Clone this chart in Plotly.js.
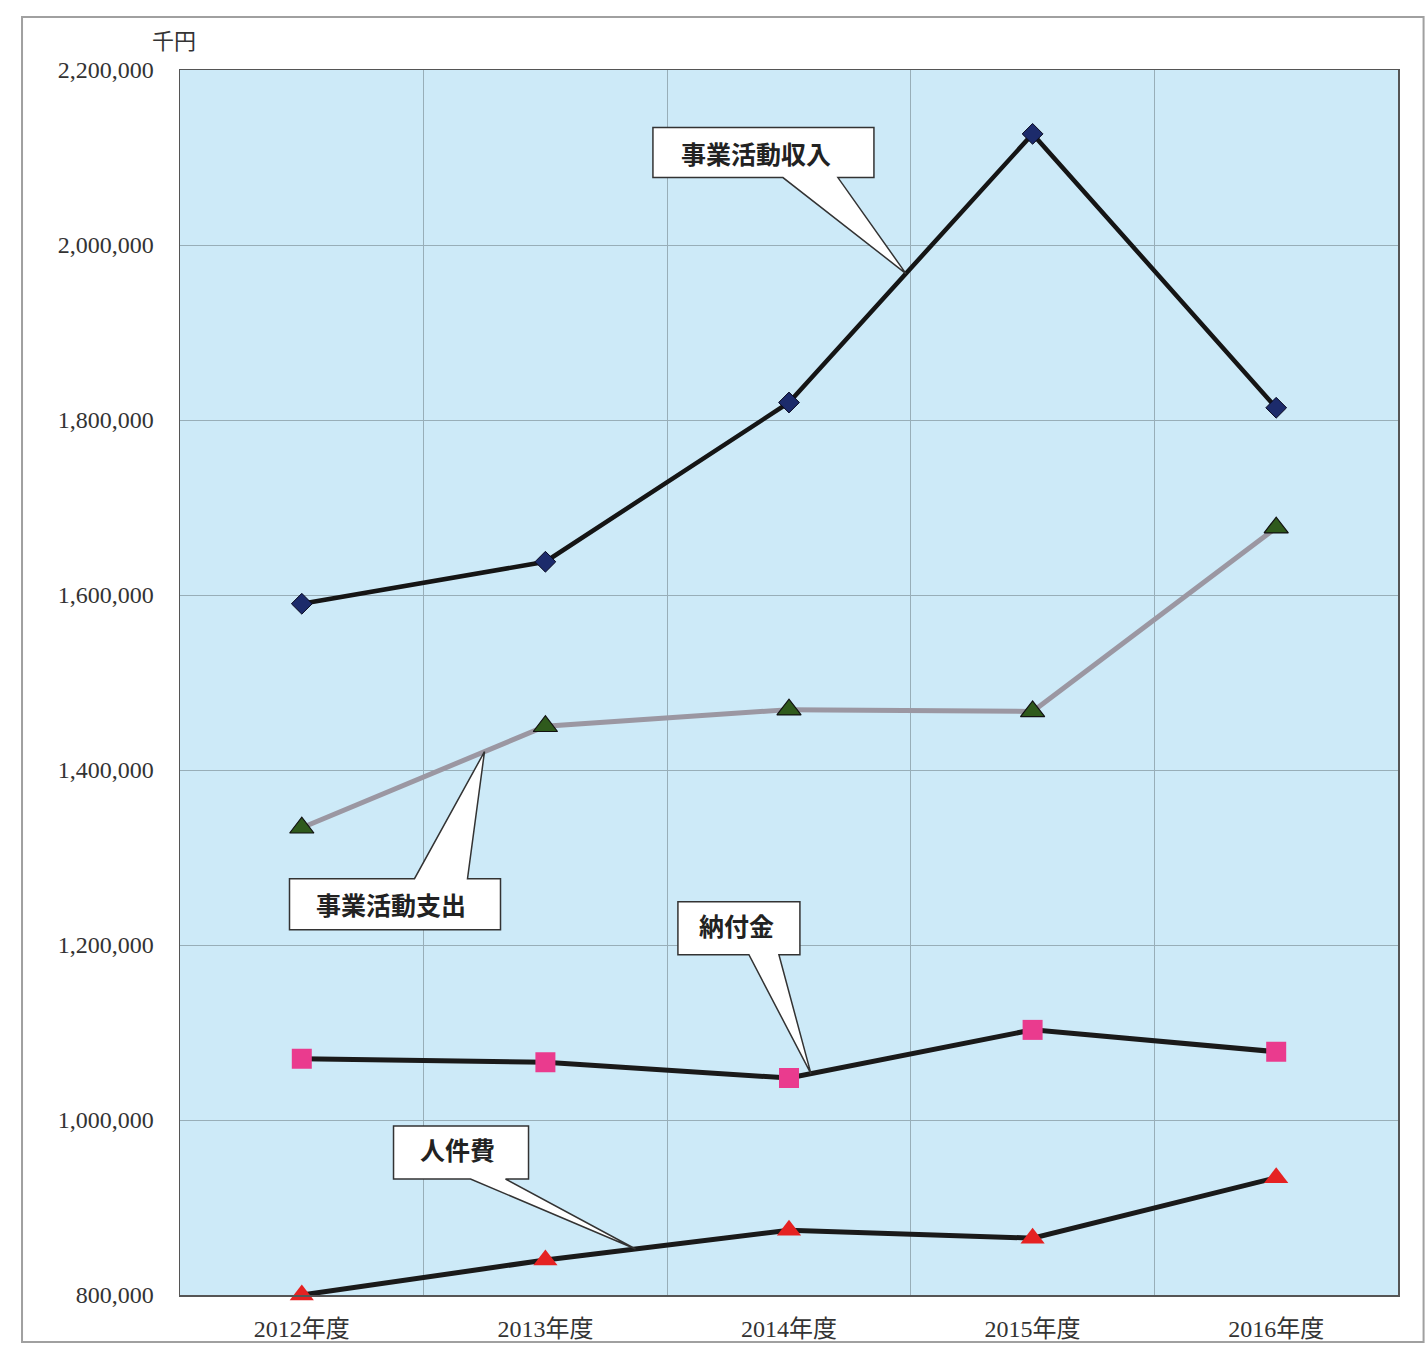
<!DOCTYPE html>
<html><head><meta charset="utf-8">
<script src="https://cdn.plot.ly/plotly-3.0.1.min.js"></script>
<style>html,body{margin:0;padding:0;background:#fff;}#chart{width:1426px;height:1345px;}</style>
</head><body><div id="chart"></div>
<script>
const categories = ['2012年度','2013年度','2014年度','2015年度','2016年度'];
const revenue = [1590000, 1638000, 1820000, 2127000, 1814000];   // 事業活動収入
const expense = [1334000, 1450000, 1469000, 1467000, 1677000];   // 事業活動支出
const payment = [1070000, 1066000, 1048000, 1103000, 1078000];   // 納付金
const personnel = [800000, 840000, 874000, 865000, 934000];      // 人件費
const seriesNames = ['事業活動収入','事業活動支出','納付金','人件費'];
const yTickVals = [800000,1000000,1200000,1400000,1600000,1800000,2000000,2200000];

const serif = 'Liberation Serif, DejaVu Serif, Noto Sans CJK JP';
const gothic = 'Noto Sans CJK JP, sans-serif';

const traces = [
  {name:seriesNames[0], x:categories, y:revenue, mode:'lines+markers', cliponaxis:false,
   line:{color:'#151515', width:4.5}, marker:{symbol:'diamond', size:16, color:'#1c2b6b', line:{color:'#0a0a20', width:1}}},
  {name:seriesNames[1], x:categories, y:expense, mode:'lines+markers', cliponaxis:false,
   line:{color:'#9b97a2', width:5}, marker:{symbol:'triangle-up', size:21, color:'#2f5a1c', line:{color:'#111', width:1.2}}},
  {name:seriesNames[2], x:categories, y:payment, mode:'lines+markers', cliponaxis:false,
   line:{color:'#1a1a1a', width:5}, marker:{symbol:'square', size:20, color:'#ea3b8e', line:{width:0}}},
  {name:seriesNames[3], x:categories, y:personnel, mode:'lines+markers', cliponaxis:false,
   line:{color:'#1a1a1a', width:5}, marker:{symbol:'triangle-up', size:21, color:'#e52222', line:{width:0}}}
];

function lerp(arr, i, t){ return arr[i] + t*(arr[i+1]-arr[i]); }

// callouts: tip on a line segment, box + wedge drawn in pixel offsets from tip
const callouts = [
  {text:seriesNames[0], data:revenue, i:2, t:0.48,
   path:'M -253,146 L -32,146 L -32,96 L -68,96 L 0,0 L -123,96 L -253,96 Z', tx:-150, ty:121},
  {text:seriesNames[1], data:expense, i:0, t:0.75,
   path:'M -195,-127 L -70,-127 L 0,0 L -17,-127 L 16,-127 L 16,-178 L -195,-178 Z', tx:-94, ty:-152},
  {text:seriesNames[2], data:payment, i:2, t:0.09,
   path:'M -133,172 L -11,172 L -11,119 L -32,119 L 0,0 L -62,119 L -133,119 Z', tx:-74, ty:149},
  {text:seriesNames[3], data:personnel, i:1, t:0.37,
   path:'M -242,123 L -107,123 L -107,70 L -130,70 L 0,0 L -165,70 L -242,70 Z', tx:-178, ty:100}
];

const shapes = [
  {type:'rect', xref:'paper', yref:'paper', x0:-0.1297, x1:1.021, y0:-0.0384, y1:1.0433,
   line:{color:'#a0a0a0', width:2}, fillcolor:'rgba(0,0,0,0)', layer:'below'}
];
const annotations = [
  {xref:'paper', yref:'paper', x:-0.005, y:1.0, xanchor:'center', yanchor:'bottom', yshift:14,
   text:'千円', showarrow:false, font:{family:serif, size:22, color:'#333'}}
];
callouts.forEach(c => {
  const xa = c.i + c.t;
  const ya = lerp(c.data, c.i, c.t);
  shapes.push({type:'path', xref:'x', yref:'y', xsizemode:'pixel', ysizemode:'pixel',
    xanchor:xa, yanchor:ya, path:c.path, fillcolor:'#ffffff',
    line:{color:'#333', width:1.5}, layer:'above'});
  annotations.push({xref:'x', yref:'y', x:xa, y:ya, xshift:c.tx, yshift:c.ty,
    text:c.text, showarrow:false, font:{family:gothic, size:25, weight:'bold', color:'#222'}});
});

const layout = {
  width:1426, height:1345,
  margin:{l:180, r:28, t:70, b:50},
  paper_bgcolor:'#ffffff', plot_bgcolor:'#cdeaf8',
  showlegend:false,
  xaxis:{type:'category', range:[-0.5,4.5], tickson:'boundaries', showgrid:true,
    gridcolor:'#98aeb8', gridwidth:1, ticks:'', showline:true, mirror:true,
    linecolor:'#555', linewidth:1.5, zeroline:false,
    tickfont:{family:serif, size:24, color:'#333'}, ticklabelstandoff:12},
  yaxis:{range:[800000,2200000], tickvals:yTickVals, tickformat:',d',
    showgrid:true, gridcolor:'#98aeb8', gridwidth:1, ticks:'', showline:true, mirror:true,
    linecolor:'#555', linewidth:1.5, zeroline:false,
    tickfont:{family:serif, size:24, color:'#333'}, ticklabelstandoff:20},
  shapes:shapes, annotations:annotations
};
Plotly.newPlot('chart', traces, layout, {displayModeBar:false, staticPlot:true});
</script></body></html>
